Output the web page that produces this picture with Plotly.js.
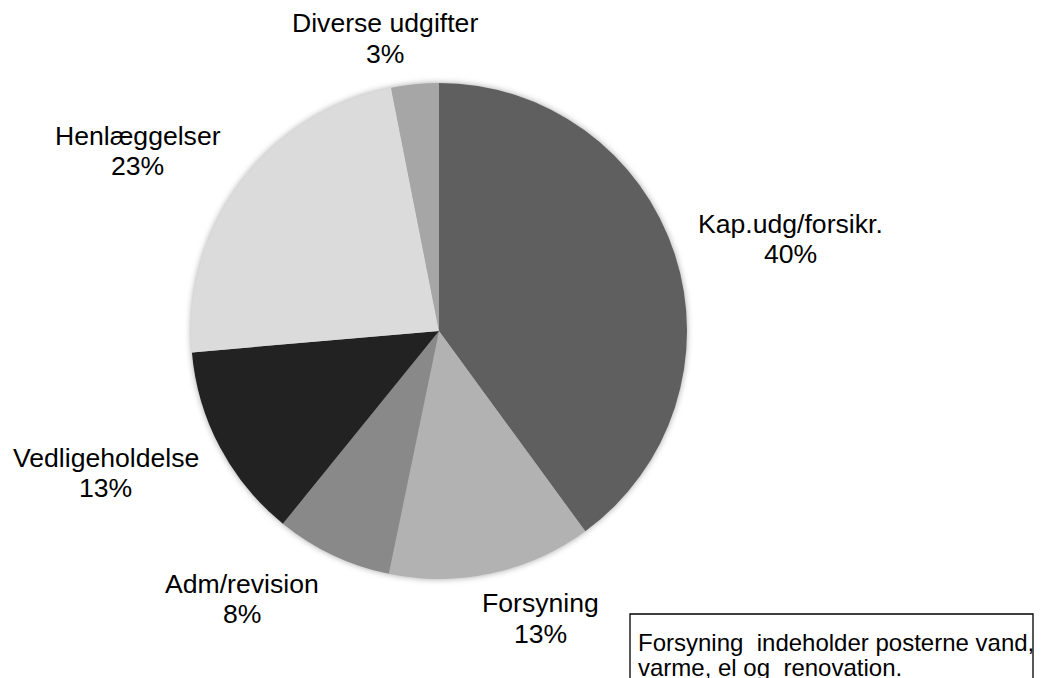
<!DOCTYPE html>
<html>
<head>
<meta charset="utf-8">
<script src="https://cdn.plot.ly/plotly-3.0.1.min.js"></script>
<style>
  html, body { margin: 0; padding: 0; background: #fff; }
  #chart { width: 1044px; height: 678px; }
  .pielayer { filter: drop-shadow(0px 0px 3px rgba(0,0,0,0.35)); }
</style>
</head>
<body>
<div id="chart"></div>
<script>
// ---- data ----
const labels = ['Kap.udg/forsikr.', 'Forsyning', 'Adm/revision', 'Vedligeholdelse', 'Henlæggelser', 'Diverse udgifter'];
const values = [40, 13.3, 7.6, 12.8, 23.3, 3.1];
const noteLines = ['Forsyning  indeholder posterne vand,', 'varme, el og  renovation.'];

// ---- styling / layout (not data) ----
const colors = ['#5f5f5f', '#b2b2b2', '#898989', '#222222', '#dbdbdb', '#a6a6a6'];
// label positions in pixels: [x center, name line middle, percent line middle]
const labelPos = [
  [790.5, 223.5, 254.5],
  [540, 602.5, 634],
  [241.5, 583.5, 613.5],
  [105.5, 457.5, 488],
  [137.5, 136, 166],
  [384.5, 23.5, 54]
];
const W = 1044, H = 678;
const cx = 439, cy = 331, R = 248;
const font = 'Liberation Sans, Arial, sans-serif';

const total = values.reduce((a, b) => a + b, 0);
const annotations = [];
labels.forEach((lab, i) => {
  const p = labelPos[i];
  const pct = Math.round(values[i] / total * 100) + '%';
  annotations.push({ xref: 'paper', yref: 'paper', x: p[0] / W, y: 1 - p[1] / H,
    xanchor: 'center', yanchor: 'middle', showarrow: false, text: lab,
    font: { family: font, size: 26.6, color: '#000' } });
  annotations.push({ xref: 'paper', yref: 'paper', x: p[0] / W, y: 1 - p[2] / H,
    xanchor: 'center', yanchor: 'middle', showarrow: false, text: pct,
    font: { family: font, size: 26.6, color: '#000' } });
});
const noteY = [642, 667];
noteLines.forEach((t, i) => {
  annotations.push({ xref: 'paper', yref: 'paper', x: 635.5 / W, y: 1 - noteY[i] / H,
    xanchor: 'left', yanchor: 'middle', showarrow: false, text: t,
    font: { family: font, size: 24, color: '#000' } });
});

const trace = {
  type: 'pie',
  labels: labels,
  values: values,
  sort: false,
  direction: 'clockwise',
  rotation: 0,
  textinfo: 'none',
  hoverinfo: 'label+percent',
  marker: { colors: colors, line: { width: 0 } },
  domain: { x: [(cx - R) / W, (cx + R) / W], y: [(H - cy - R) / H, (H - cy + R) / H] },
  showlegend: false
};

const layout = {
  width: W, height: H,
  margin: { l: 0, r: 0, t: 0, b: 0 },
  paper_bgcolor: '#fff',
  plot_bgcolor: '#fff',
  showlegend: false,
  annotations: annotations,
  shapes: [{
    type: 'rect', xref: 'paper', yref: 'paper',
    x0: 630 / W, x1: 1033 / W, y0: -0.05, y1: 1 - 614 / H,
    line: { color: '#000', width: 1.3 }, fillcolor: 'rgba(0,0,0,0)'
  }]
};

Plotly.newPlot('chart', [trace], layout, { displayModeBar: false, staticPlot: true });
</script>
</body>
</html>
